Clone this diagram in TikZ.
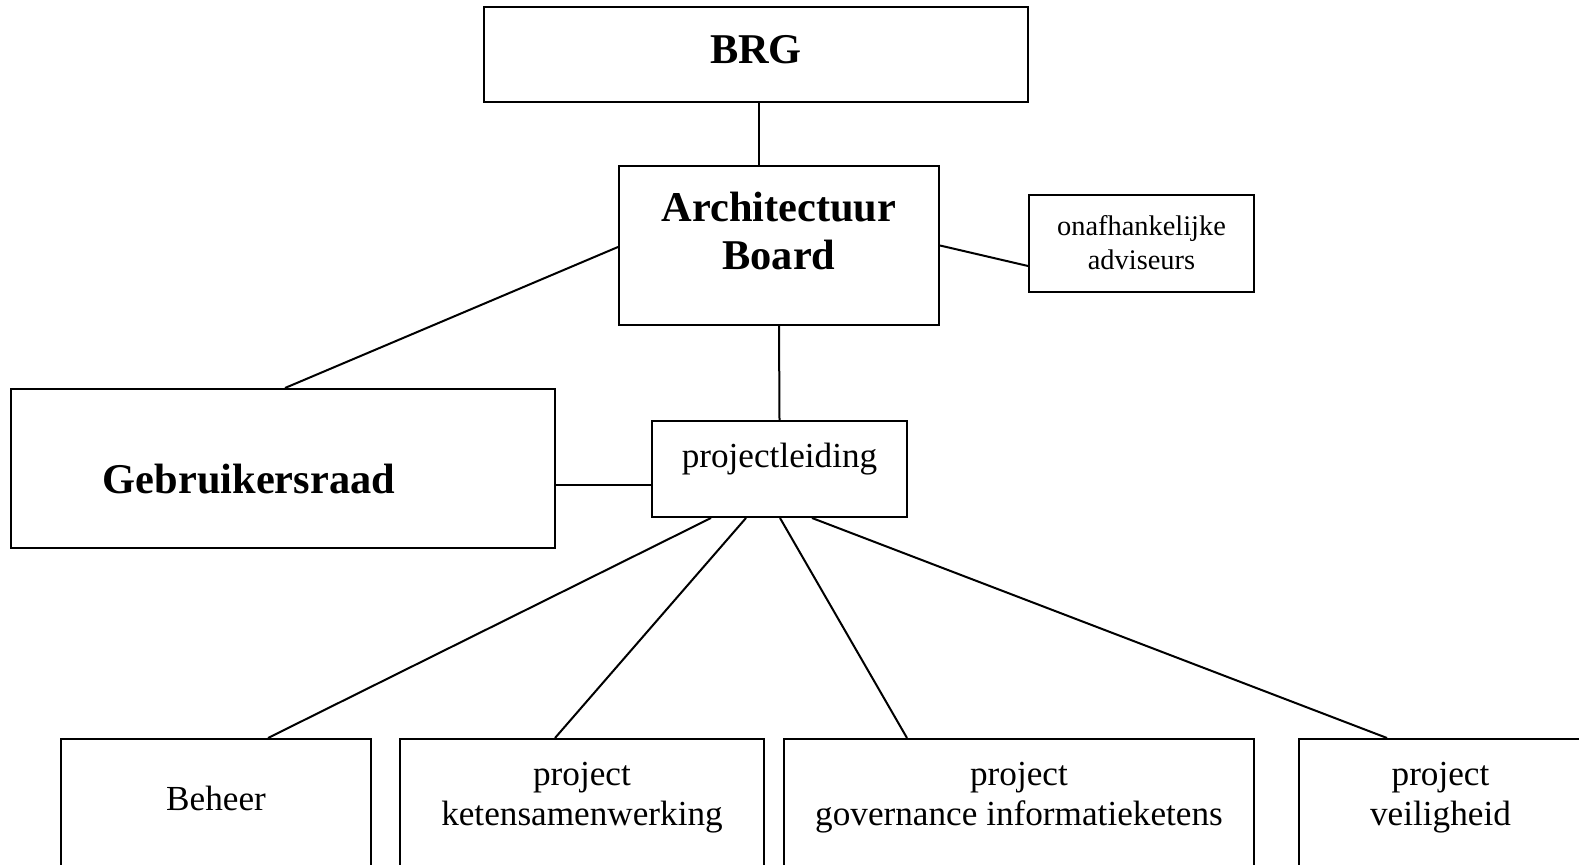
\documentclass[tikz,border=0pt]{standalone}
\usepackage{fontspec}
\setmainfont{Liberation Serif}
\usepackage{tikz}
\usetikzlibrary{positioning, calc}

\begin{document}
\begin{tikzpicture}[
    x=0.5pt, y=-0.5pt,
    box/.style={rectangle, draw, line width=1pt, inner sep=0pt, align=center},
    bigbold/.style={font=\fontsize{21.2}{24.3}\selectfont\bfseries},
    normal/.style={font=\fontsize{17.6}{20}\selectfont},
    small/.style={font=\fontsize{14.2}{17}\selectfont},
    line/.style={line width=1pt}
]
    \useasboundingbox (0,0) rectangle (1579,865);

    % top of the tree
    \node[box, bigbold, minimum width=272pt, minimum height=47.5pt, text height=10pt, text depth=1.1pt] (brg) at (756,54.5) {BRG};
    \node[box, bigbold, minimum width=160pt, minimum height=79.5pt, text height=26pt, text depth=1.5pt] (ab) at (779,245.5) {Architectuur\\Board};
    \node[box, small, minimum width=112.5pt, minimum height=48.5pt, text height=28pt, text depth=1.5pt] (adv) at (1141.5,243.5) {onafhankelijke\\adviseurs};

    % middle
    \node[box, bigbold, minimum width=272pt, minimum height=79.5pt, text height=26pt, text depth=1.1pt] (gebr) at (283,468.5) {Gebruikersraad\hspace*{34pt}};
    \node[box, normal, minimum width=127.5pt, minimum height=48pt, text height=4pt, text depth=5pt] (pl) at (779.5,469) {projectleiding};

    % projects
    \node[box, normal, minimum width=155pt, minimum height=80pt, text height=4pt, text depth=12.4pt] (beheer) at (216,819) {Beheer};
    \node[box, normal, minimum width=182pt, minimum height=80pt, text height=8pt, text depth=1.3pt] (keten) at (582,819) {project\\ketensamenwerking};
    \node[box, normal, minimum width=235pt, minimum height=80pt, text height=8pt, text depth=1.3pt] (gov) at (1019,819) {project\\governance informatieketens};
    \node[box, normal, minimum width=141.5pt, minimum height=80pt, text height=8pt, text depth=1.3pt] (veil) at (1440.5,819) {project\\veiligheid};

    % connections
    \draw[line] ($(brg.south)+(3,0)$) -- ($(ab.north)+(-20,0)$);
    \draw[line] ($(ab.west)+(0,1.5)$) -- ($(gebr.north)+(2,0)$);
    \draw[line] (ab.east) -- ($(adv.west)+(0,22.5)$);
    \draw[line] (ab.south) -- (pl.north);
    \draw[line] ($(gebr.east)+(0,16.5)$) -- ($(pl.west)+(0,16)$);
    \draw[line] ($(pl.south)+(-68.5,0)$) -- ($(beheer.north)+(52,0)$);
    \draw[line] ($(pl.south)+(-33.5,0)$) -- ($(keten.north)+(-27,0)$);
    \draw[line] ($(pl.south)+(0.5,0)$) -- ($(gov.north)+(-112,0)$);
    \draw[line] ($(pl.south)+(32.5,0)$) -- ($(veil.north)+(-53.5,0)$);
\end{tikzpicture}
\end{document}
